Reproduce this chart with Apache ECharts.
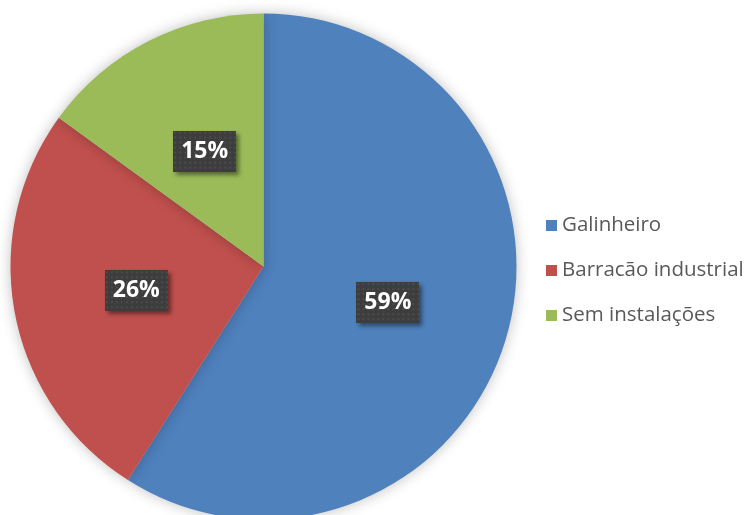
<!DOCTYPE html>
<html>
<head>
<meta charset="utf-8">
<script src="https://cdn.jsdelivr.net/npm/echarts@6/dist/echarts.min.js"></script>
<style>
  html, body { margin: 0; padding: 0; background: #fff; }
  #chart { width: 750px; height: 515px; }
</style>
</head>
<body>
<div id="chart"></div>
<script>
const categories = ['Galinheiro', 'Barracão industrial', 'Sem instalações'];
const shares = [59, 26, 15];
const colors = ['#4F81BD', '#C0504D', '#9BBB59'];

// dark dotted box behind the percentage labels
function dottedBox(w, h) {
  const c = document.createElement('canvas');
  c.width = w; c.height = h;
  const ctx = c.getContext('2d');
  ctx.fillStyle = '#3d3d3d';
  ctx.fillRect(0, 0, w, h);
  ctx.fillStyle = '#4c4c4c';
  for (let y = 1; y < h; y += 5) {
    for (let x = 1; x < w; x += 5) {
      ctx.fillRect(x, y, 2, 2);
    }
  }
  return c;
}

const chart = echarts.init(document.getElementById('chart'));

const option = {
  animation: false,
  legend: {
    orient: 'vertical',
    left: 546,
    top: 215,
    padding: 0,
    itemWidth: 11,
    itemHeight: 11,
    itemGap: 24,
    icon: 'rect',
    textStyle: {
      fontFamily: 'Open Sans',
      fontSize: 20.5,
      lineHeight: 20,
      color: '#595959'
    },
    data: categories
  },
  series: [
    {
      type: 'pie',
      center: [263.5, 266.5],
      radius: 253,
      startAngle: 90,
      clockwise: true,
      avoidLabelOverlap: false,
      itemStyle: {
        shadowBlur: 14,
        shadowColor: 'rgba(0,0,0,0.25)'
      },
      label: {
        position: 'inside',
        formatter: '{c}%',
        fontFamily: 'Open Sans',
        fontWeight: 'bold',
        fontSize: 23,
        color: '#fff',
        backgroundColor: { image: dottedBox(63, 41) },
        width: 47,
        height: 23,
        overflow: 'none',
        align: 'center',
        padding: [9, 8, 9, 8],
        shadowColor: 'rgba(0,0,0,0.45)',
        shadowBlur: 4,
        shadowOffsetX: 3,
        shadowOffsetY: 3
      },
      labelLine: { show: false },
      emphasis: { disabled: true },
      data: categories.map((name, i) => ({
        name: name,
        value: shares[i],
        itemStyle: { color: colors[i] }
      }))
    }
  ]
};

chart.setOption(option);
</script>
</body>
</html>
